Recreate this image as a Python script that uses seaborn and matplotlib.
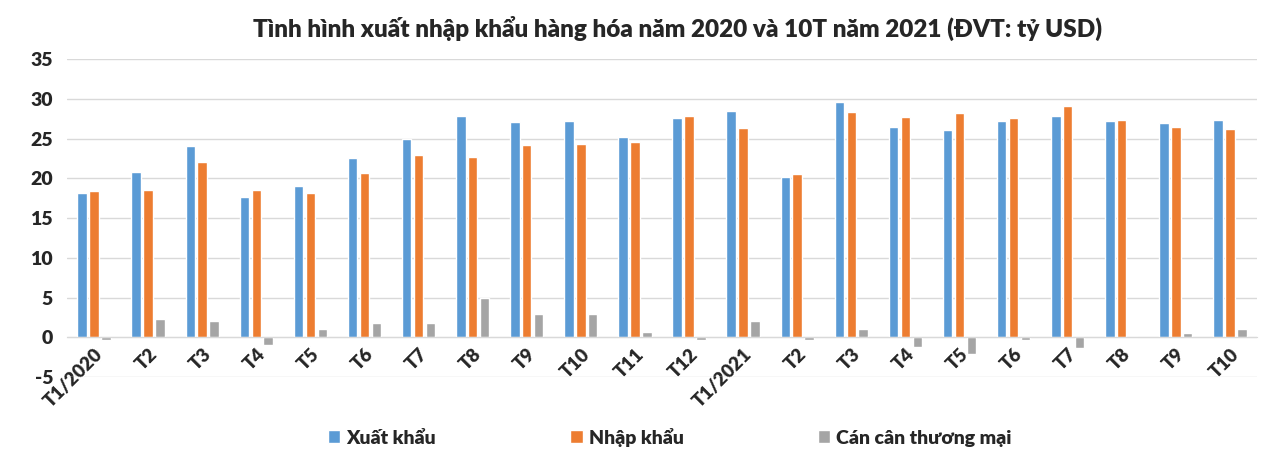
import matplotlib
matplotlib.use("Agg")
import matplotlib.pyplot as plt
import pandas as pd
import seaborn as sns

# ---------------------------------------------------
# Data (ty USD)
# ---------------------------------------------------
months = ["T1/2020", "T2", "T3", "T4", "T5", "T6", "T7", "T8", "T9", "T10", "T11", "T12",
          "T1/2021", "T2", "T3", "T4", "T5", "T6", "T7", "T8", "T9", "T10"]

xuat_khau = [18.1, 20.8, 24.1, 17.6, 19.0, 22.5, 24.9, 27.8, 27.1, 27.2, 25.2, 27.6,
             28.5, 20.2, 29.6, 26.5, 26.1, 27.2, 27.8, 27.2, 27.0, 27.3]
nhap_khau = [18.4, 18.5, 22.0, 18.5, 18.1, 20.7, 22.9, 22.7, 24.2, 24.3, 24.6, 27.8,
             26.3, 20.5, 28.3, 27.7, 28.2, 27.6, 29.1, 27.3, 26.5, 26.2]
can_can = [-0.3, 2.3, 2.1, -1.0, 1.0, 1.8, 1.8, 5.0, 2.9, 2.9, 0.7, -0.3,
           2.0, -0.3, 1.1, -1.2, -2.1, -0.3, -1.3, 0.05, 0.5, 1.0]

series_names = ["Xuất khẩu", "Nhập khẩu", "Cán cân thương mại"]
colors = ["#5B9BD5", "#ED7D31", "#A5A5A5"]

title = "Tình hình xuất nhập khẩu hàng hóa năm 2020 và 10T năm 2021 (ĐVT: tỷ USD)"

# long table for seaborn (month index keeps the repeated labels apart)
rows = []
for name, values in zip(series_names, [xuat_khau, nhap_khau, can_can]):
    for i, v in enumerate(values):
        rows.append({"idx": i, "series": name, "value": v})
df = pd.DataFrame(rows)

# ---------------------------------------------------
# Style
# ---------------------------------------------------
sns.set_style("white")
plt.rcParams["font.family"] = ["Lato", "Noto Sans", "DejaVu Sans"]
plt.rcParams["font.weight"] = "bold"
plt.rcParams["axes.unicode_minus"] = False

fig = plt.figure(figsize=(12.73, 4.65), dpi=100)
ax = fig.add_axes([0.0526, 0.189, 0.9348, 0.684])

sns.barplot(
    data=df,
    x="idx",
    y="value",
    hue="series",
    hue_order=series_names,
    palette=colors,
    width=0.66,
    gap=0.2,
    saturation=1,
    errorbar=None,
    ax=ax
)

ax.set_ylim(-5, 35)
ax.set_yticks(range(-5, 36, 5))
ax.set_xlim(-0.5, len(months) - 0.5)

ax.yaxis.grid(True, color="#D9D9D9", linewidth=1)
ax.set_axisbelow(True)

for side in ["top", "right", "left"]:
    ax.spines[side].set_visible(False)
ax.spines["bottom"].set_position(("data", 0))
ax.spines["bottom"].set_color("#D9D9D9")

ax.set_xticks(range(len(months)))
ax.set_xticklabels(months, rotation=45, ha="right", rotation_mode="anchor",
                   fontsize=13.5, fontweight="heavy")
ax.tick_params(axis="x", length=0, pad=6)
ax.tick_params(axis="y", length=0, pad=10, labelsize=14)
for lbl in ax.get_yticklabels():
    lbl.set_fontweight("heavy")

ax.set_xlabel("")
ax.set_ylabel("")

fig.suptitle(title, x=0.532, y=0.966, fontsize=17.5, fontweight="heavy")

handles, labels = ax.get_legend_handles_labels()
ax.legend_.remove()
fig.legend(
    handles,
    labels,
    loc="center",
    bbox_to_anchor=(0.526, 0.06),
    ncol=3,
    frameon=False,
    handlelength=0.65,
    handleheight=0.65,
    handletextpad=0.3,
    columnspacing=6.9,
    prop={"weight": "heavy", "size": 14}
)

plt.savefig("out.png", dpi=100)
plt.close()
